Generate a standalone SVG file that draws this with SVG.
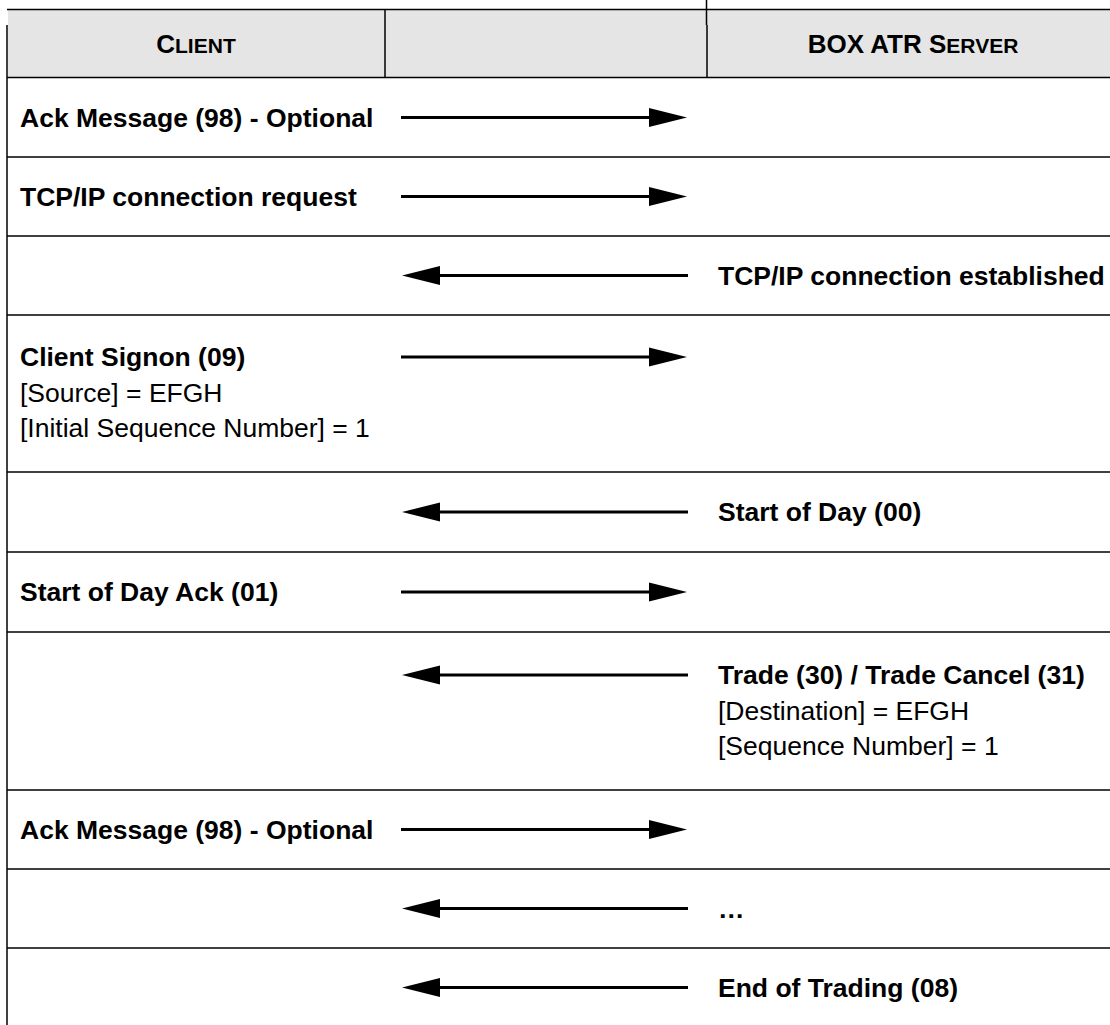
<svg xmlns="http://www.w3.org/2000/svg" width="1110" height="1025" viewBox="0 0 1110 1025">
<style>
  text { font-family: "Liberation Sans", Arial, sans-serif; font-size: 26.5px; fill: #000; }
  .b { font-weight: bold; }
  .sc { font-size: 21px; }
  .hd { font-weight: bold; text-anchor: middle; font-size: 26px; }
  .rule { stroke: #000; stroke-width: 1.5; fill: none; }
  .arrow { stroke: #000; stroke-width: 3; fill: none; marker-end: url(#head); }
</style>
<defs>
  <marker id="head" markerUnits="userSpaceOnUse" viewBox="0 -10 40 20" refX="0" refY="0" markerWidth="40" markerHeight="20" orient="auto">
    <path d="M0,-9.5 L38,0 L0,9.5 Z" fill="#000"/>
  </marker>
</defs>
<rect width="1110" height="1025" fill="#fff"/>

<g id="table">
  <rect x="8" y="9" width="1102" height="69" fill="#e5e5e5"/>
  <line class="rule" x1="7" y1="9.5" x2="1110" y2="9.5" stroke-width="1"/>
  <line class="rule" x1="7" y1="25" x2="7" y2="1025" stroke-width="2.5"/>
  <line class="rule" x1="385" y1="9" x2="385" y2="78"/>
  <line class="rule" x1="706.5" y1="0" x2="706.5" y2="25" stroke-width="1"/>
  <line class="rule" x1="707" y1="25" x2="707" y2="78" stroke-width="2"/>
  <line class="rule" x1="7" y1="77.5" x2="1110" y2="77.5" stroke-width="2.5"/>
  <line class="rule" x1="7" y1="157" x2="1110" y2="157"/>
  <line class="rule" x1="7" y1="236" x2="1110" y2="236"/>
  <line class="rule" x1="7" y1="315" x2="1110" y2="315"/>
  <line class="rule" x1="7" y1="472" x2="1110" y2="472"/>
  <line class="rule" x1="7" y1="552" x2="1110" y2="552"/>
  <line class="rule" x1="7" y1="632" x2="1110" y2="632"/>
  <line class="rule" x1="7" y1="790" x2="1110" y2="790"/>
  <line class="rule" x1="7" y1="869" x2="1110" y2="869"/>
  <line class="rule" x1="7" y1="948" x2="1110" y2="948"/>
</g>

<g id="header-client"><text class="hd" x="196" y="53">C<tspan class="sc">LIENT</tspan></text></g>
<g id="header-server"><text class="hd" x="913" y="53">BOX ATR S<tspan class="sc">ERVER</tspan></text></g>

<g id="msg-ack1"><text class="b" x="20" y="126.5">Ack Message (98) - Optional</text></g>
<g id="msg-tcp-req"><text class="b" x="20" y="205.5">TCP/IP connection request</text></g>
<g id="msg-tcp-est"><text class="b" x="718" y="284.5">TCP/IP connection established</text></g>
<g id="msg-signon">
  <text class="b" x="20" y="366">Client Signon (09)</text>
  <text x="20" y="401.5">[Source] = EFGH</text>
  <text x="20" y="437">[Initial Sequence Number] = 1</text>
</g>
<g id="msg-sod"><text class="b" x="718" y="521">Start of Day (00)</text></g>
<g id="msg-sod-ack"><text class="b" x="20" y="601">Start of Day Ack (01)</text></g>
<g id="msg-trade">
  <text class="b" x="718" y="684">Trade (30) / Trade Cancel (31)</text>
  <text x="718" y="719.5">[Destination] = EFGH</text>
  <text x="718" y="755">[Sequence Number] = 1</text>
</g>
<g id="msg-ack2"><text class="b" x="20" y="838.5">Ack Message (98) - Optional</text></g>
<g id="msg-ellipsis"><text class="b" x="718" y="917.5">…</text></g>
<g id="msg-eot"><text class="b" x="718" y="996.5">End of Trading (08)</text></g>

<g id="connectors">
  <line class="arrow" x1="401" y1="117.5" x2="649" y2="117.5"/>
  <line class="arrow" x1="401" y1="196.5" x2="649" y2="196.5"/>
  <line class="arrow" x1="688" y1="275.5" x2="440" y2="275.5"/>
  <line class="arrow" x1="401" y1="357" x2="649" y2="357"/>
  <line class="arrow" x1="688" y1="512" x2="440" y2="512"/>
  <line class="arrow" x1="401" y1="592" x2="649" y2="592"/>
  <line class="arrow" x1="688" y1="675" x2="440" y2="675"/>
  <line class="arrow" x1="401" y1="829.5" x2="649" y2="829.5"/>
  <line class="arrow" x1="688" y1="908.5" x2="440" y2="908.5"/>
  <line class="arrow" x1="688" y1="987.5" x2="440" y2="987.5"/>
</g>
</svg>
